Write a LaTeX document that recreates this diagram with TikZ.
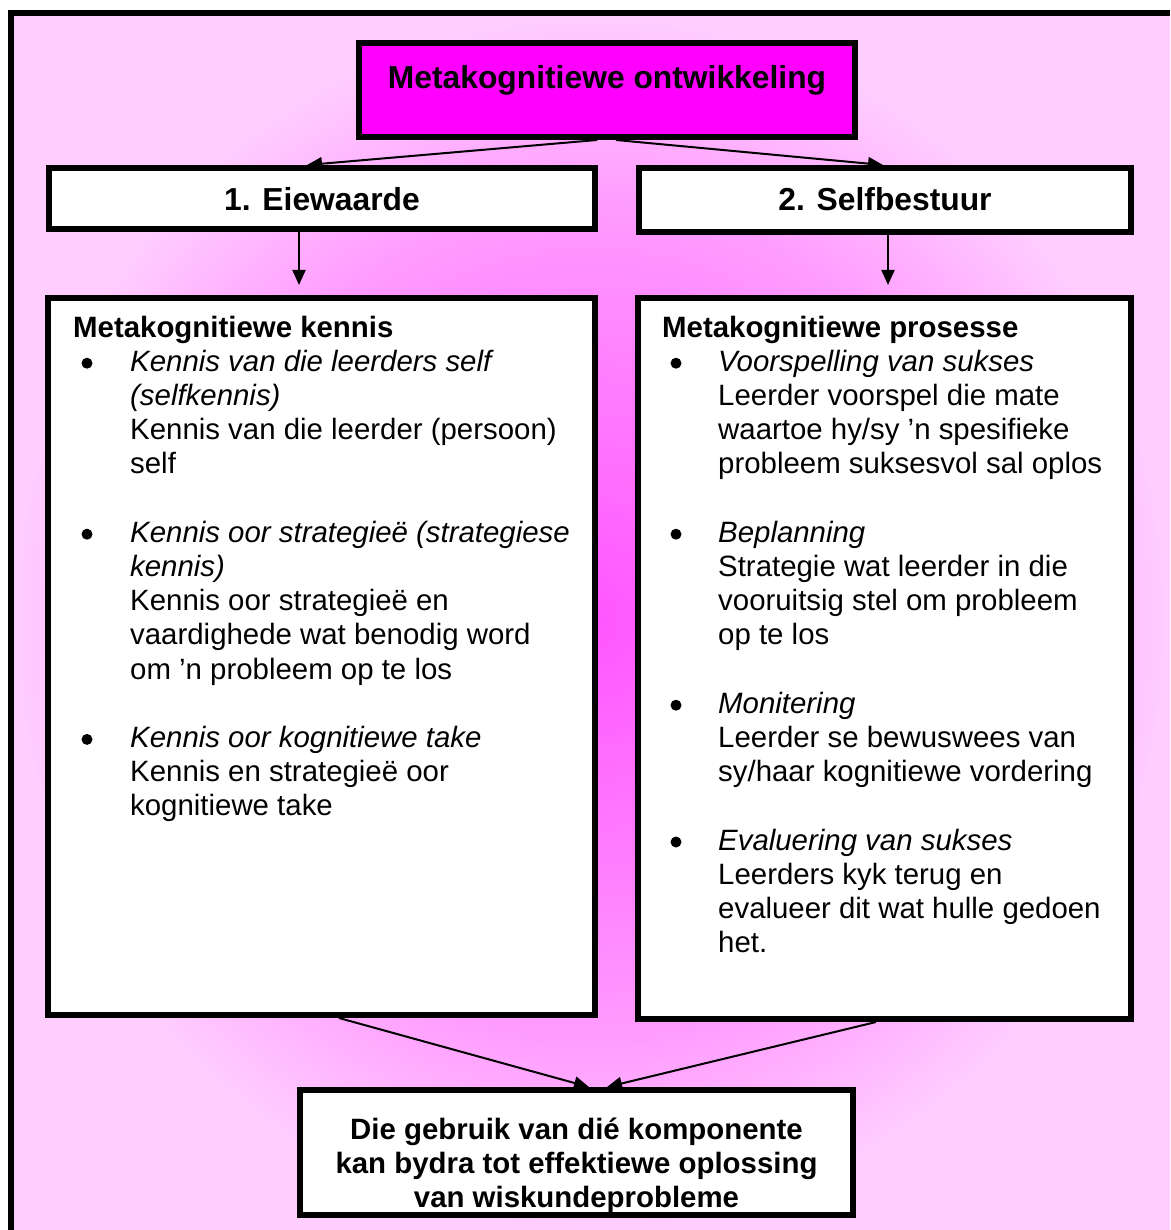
\documentclass[tikz,border=0pt]{standalone}
\usepackage{fontspec}
\setmainfont{Liberation Sans}
\usetikzlibrary{arrows.meta}
\definecolor{magbox}{RGB}{255,0,255}
\definecolor{bginner}{RGB}{255,85,255}
\definecolor{bgmid}{RGB}{255,155,255}
\definecolor{bgouter}{RGB}{255,206,255}
\pgfdeclareradialshading{bgshade}{\pgfpoint{0bp}{0bp}}{color(0bp)=(bginner); color(17bp)=(bgmid); color(25bp)=(bgouter); color(50bp)=(bgouter)}
\tikzset{
  boxframe/.style={draw=black, line width=6pt, fill=white, inner sep=0pt},
  headfont/.style={font=\fontsize{31.8}{36}\selectfont\bfseries, anchor=base, inner sep=0pt},
  bodyfont/.style={font=\fontsize{29.4}{34.2}\selectfont},
  textline/.style={bodyfont, anchor=base west, inner sep=0pt},
  centreline/.style={bodyfont, anchor=base, inner sep=0pt},
  bulletdot/.style={circle, fill=black, inner sep=0pt, minimum size=11pt},
  arr/.style={line width=2pt, -{Triangle[length=15pt,width=13pt]}},
}
\begin{document}
\begin{tikzpicture}[x=1pt,y=-1pt]
\useasboundingbox (0,0) rectangle (1170,1230);
\fill[white] (0,0) rectangle (1170,1230);
\shade[shading=bgshade] (11,13) rectangle (1170,1230);
\draw[line width=6pt] (11,1230) -- (11,13) -- (1170,13);

% boxes
\node[boxframe, fill=magbox, minimum width=496pt, minimum height=94pt] (top) at (607,90) {};
\node[headfont] (toptxt) at (607,89) {Metakognitiewe ontwikkeling};

\node[boxframe, minimum width=546pt, minimum height=61pt] (b1) at (322,198.5) {};
\node[headfont] (b1txt) at (322,211) {1. Eiewaarde};
\node[boxframe, minimum width=492pt, minimum height=64pt] (b2) at (885,200) {};
\node[headfont] (b2txt) at (885,211) {2. Selfbestuur};

\node[boxframe, minimum width=547pt, minimum height=717pt] (kennis) at (321.5,656.5) {};
\node[boxframe, minimum width=493pt, minimum height=721pt] (prosesse) at (884.5,658.5) {};
\node[boxframe, minimum width=553pt, minimum height=125pt] (slot) at (576.5,1152.5) {};

% connectors
\draw[arr] ([xshift=-10pt]top.south) -- ([xshift=-15pt]b1.north);
\draw[arr] ([xshift=9pt]top.south) -- ([xshift=-2pt]b2.north);
\draw[arr, shorten >=10pt] ([xshift=-23pt]b1.south) -- ([xshift=-23pt]b1.south |- kennis.north);
\draw[arr, shorten >=10pt] ([xshift=3pt]b2.south) -- ([xshift=3pt]b2.south |- prosesse.north);
\draw[arr] ([xshift=17.5pt]kennis.south) -- ([xshift=12.5pt]slot.north);
\draw[arr] ([xshift=-8.5pt]prosesse.south) -- ([xshift=30.5pt]slot.north);

% left box text
\node[textline] (LH) at (73,337) {\bfseries Metakognitiewe kennis};
\foreach \n/\txt [count=\i] in {
  1/{\itshape Kennis van die leerders self},
  2/{\itshape (selfkennis)},
  3/{Kennis van die leerder (persoon)},
  4/{self},
  6/{\itshape Kennis oor strategieë (strategiese},
  7/{\itshape kennis)},
  8/{Kennis oor strategieë en},
  9/{vaardighede wat benodig word},
  10/{om ’n probleem op te los},
  12/{\itshape Kennis oor kognitiewe take},
  13/{Kennis en strategieë oor},
  14/{kognitiewe take}}
  \node[textline] (L\i) at (130,337+34.2*\n) {\txt};
\foreach \n [count=\i] in {1,6,12}
  \node[bulletdot] (LB\i) at (87,337+34.2*\n-8) {};

% right box text
\node[textline] (RH) at (662,337) {\bfseries Metakognitiewe prosesse};
\foreach \n/\txt [count=\i] in {
  1/{\itshape Voorspelling van sukses},
  2/{Leerder voorspel die mate},
  3/{waartoe hy/sy ’n spesifieke},
  4/{probleem suksesvol sal oplos},
  6/{\itshape Beplanning},
  7/{Strategie wat leerder in die},
  8/{vooruitsig stel om probleem},
  9/{op te los},
  11/{\itshape Monitering},
  12/{Leerder se bewuswees van},
  13/{sy/haar kognitiewe vordering},
  15/{\itshape Evaluering van sukses},
  16/{Leerders kyk terug en},
  17/{evalueer dit wat hulle gedoen},
  18/{het.}}
  \node[textline] (R\i) at (718,337+34.2*\n) {\txt};
\foreach \n [count=\i] in {1,6,11,15}
  \node[bulletdot] (RB\i) at (676,337+34.2*\n-8) {};

% bottom box text
\foreach \n/\txt [count=\i] in {
  0/{Die gebruik van dié komponente},
  1/{kan bydra tot effektiewe oplossing},
  2/{van wiskundeprobleme}}
  \node[centreline] (S\i) at (576.5,1139+34.2*\n) {\bfseries\txt};
\end{tikzpicture}
\end{document}
